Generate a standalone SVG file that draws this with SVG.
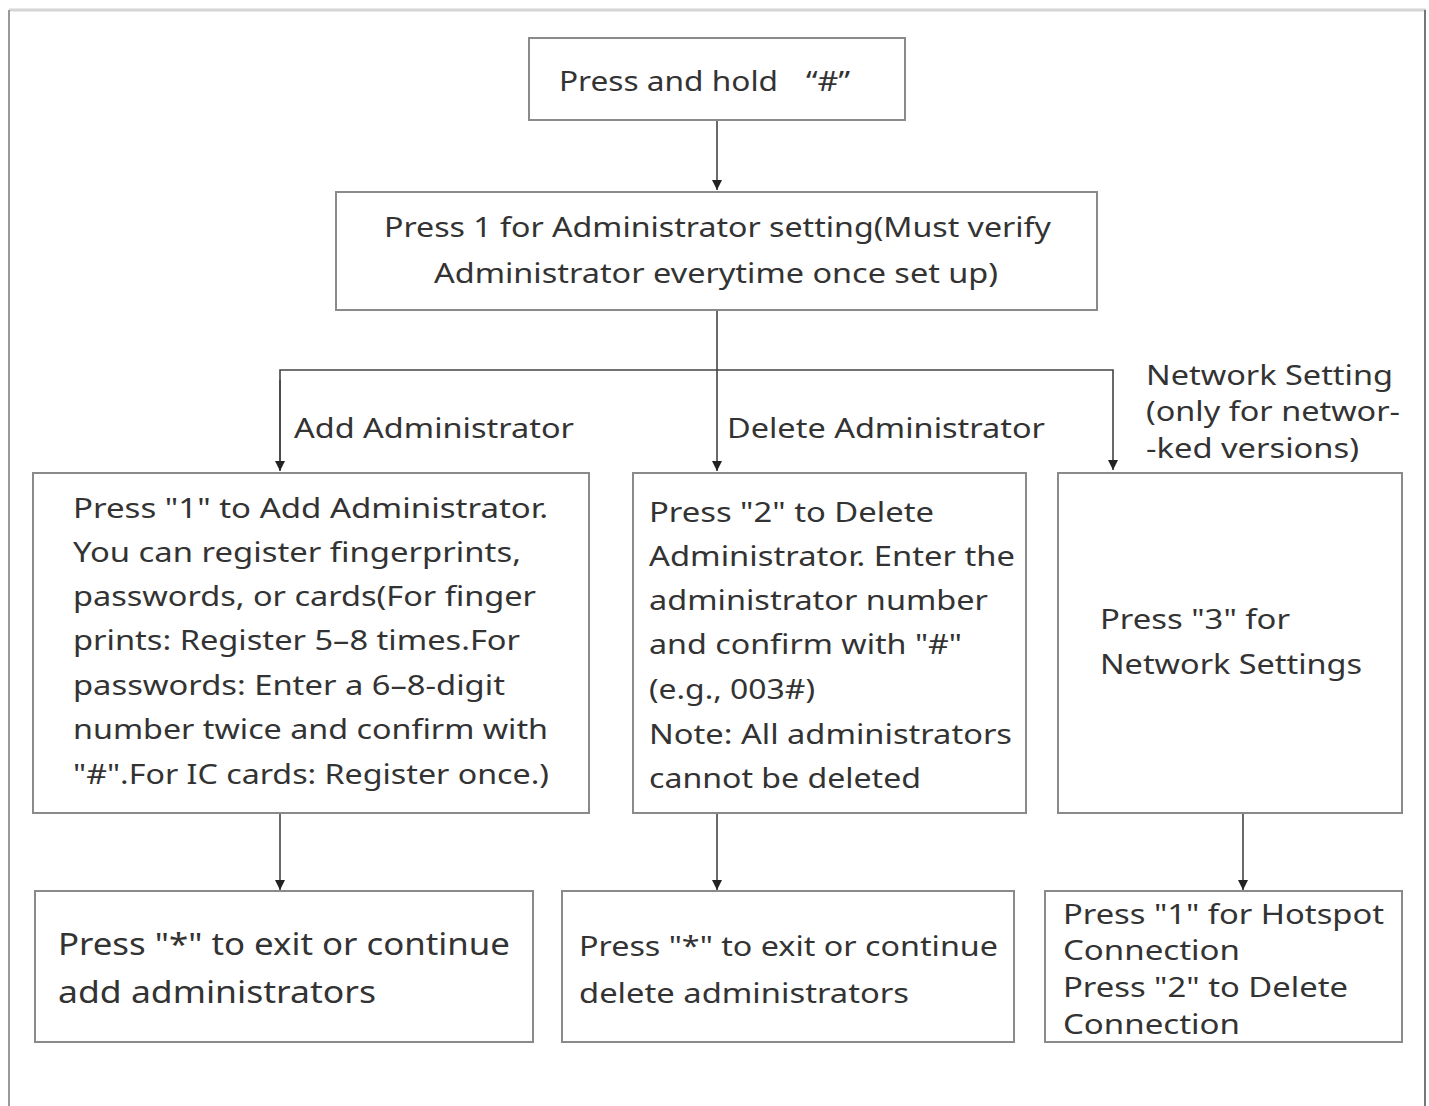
<svg xmlns="http://www.w3.org/2000/svg" width="1429" height="1106" viewBox="0 0 1429 1106">
<defs>
<style>
.box{fill:#fff;stroke:#8a8a8a;stroke-width:2}
.ln{fill:none;stroke:#444;stroke-width:1.6}
text{font-family:"Noto Sans","Open Sans","Liberation Sans",sans-serif;fill:#333;font-size:28px}
.big{font-size:30px}
</style>
<marker id="ah" viewBox="0 0 10 16" refX="10" refY="8" markerWidth="10" markerHeight="16" markerUnits="userSpaceOnUse" orient="auto">
<path d="M0,3 L10,8 L0,13 Z" fill="#222"/>
</marker>
</defs>
<rect x="0" y="0" width="1429" height="1106" fill="#fff"/>
<g id="frame">
<line x1="9" y1="10" x2="1426" y2="10" stroke="#d4d4d4" stroke-width="3"/>
<line x1="9" y1="10" x2="9" y2="1106" stroke="#9a9a9a" stroke-width="2"/>
<line x1="1425" y1="10" x2="1425" y2="1106" stroke="#777" stroke-width="2"/>
</g>
<g id="connectors">
<line class="ln" x1="717" y1="120" x2="717" y2="190" marker-end="url(#ah)"/>
<line class="ln" x1="717" y1="310" x2="717" y2="370"/>
<polyline class="ln" points="280,470 280,370 1113,370 1113,470" marker-end="url(#ah)"/>
<line class="ln" x1="280" y1="380" x2="280" y2="471" marker-end="url(#ah)"/>
<line class="ln" x1="717" y1="370" x2="717" y2="471" marker-end="url(#ah)"/>
<line class="ln" x1="280" y1="813" x2="280" y2="890" marker-end="url(#ah)"/>
<line class="ln" x1="717" y1="813" x2="717" y2="890" marker-end="url(#ah)"/>
<line class="ln" x1="1243" y1="813" x2="1243" y2="890" marker-end="url(#ah)"/>
<text x="294" y="438" textLength="280" lengthAdjust="spacingAndGlyphs">Add Administrator</text>
<text x="727" y="438" textLength="318" lengthAdjust="spacingAndGlyphs">Delete Administrator</text>
<text x="1146" y="385" textLength="247" lengthAdjust="spacingAndGlyphs">Network Setting</text>
<text x="1146" y="421" textLength="254" lengthAdjust="spacingAndGlyphs">(only for networ-</text>
<text x="1146" y="458" textLength="213" lengthAdjust="spacingAndGlyphs">-ked versions)</text>
</g>
<g id="n-hold">
<rect class="box" x="529" y="38" width="376" height="82"/>
<text x="559" y="91" textLength="219" lengthAdjust="spacingAndGlyphs">Press and hold</text>
<text x="806" y="91" textLength="44" lengthAdjust="spacingAndGlyphs">“#”</text>
</g>
<g id="n-admin-setting">
<rect class="box" x="336" y="192" width="761" height="118"/>
<text x="384" y="237" textLength="667" lengthAdjust="spacingAndGlyphs">Press 1 for Administrator setting(Must verify</text>
<text x="434" y="283" textLength="564" lengthAdjust="spacingAndGlyphs">Administrator everytime once set up)</text>
</g>
<g id="n-add">
<rect class="box" x="33" y="473" width="556" height="340"/>
<text x="73" y="518" textLength="475" lengthAdjust="spacingAndGlyphs">Press "1" to Add Administrator.</text>
<text x="73" y="562" textLength="448" lengthAdjust="spacingAndGlyphs">You can register fingerprints,</text>
<text x="73" y="606" textLength="463" lengthAdjust="spacingAndGlyphs">passwords, or cards(For finger</text>
<text x="73" y="650" textLength="447" lengthAdjust="spacingAndGlyphs">prints: Register 5–8 times.For</text>
<text x="73" y="695" textLength="432" lengthAdjust="spacingAndGlyphs">passwords: Enter a 6–8-digit</text>
<text x="73" y="739" textLength="475" lengthAdjust="spacingAndGlyphs">number twice and confirm with</text>
<text x="73" y="784" textLength="476" lengthAdjust="spacingAndGlyphs">"#".For IC cards: Register once.)</text>
</g>
<g id="n-delete">
<rect class="box" x="633" y="473" width="393" height="340"/>
<text x="649" y="522" textLength="285" lengthAdjust="spacingAndGlyphs">Press "2" to Delete</text>
<text x="649" y="566" textLength="366" lengthAdjust="spacingAndGlyphs">Administrator. Enter the</text>
<text x="649" y="610" textLength="339" lengthAdjust="spacingAndGlyphs">administrator number</text>
<text x="649" y="654" textLength="313" lengthAdjust="spacingAndGlyphs">and confirm with "#"</text>
<text x="649" y="699" textLength="166" lengthAdjust="spacingAndGlyphs">(e.g., 003#)</text>
<text x="649" y="744" textLength="363" lengthAdjust="spacingAndGlyphs">Note: All administrators</text>
<text x="649" y="788" textLength="272" lengthAdjust="spacingAndGlyphs">cannot be deleted</text>
</g>
<g id="n-network">
<rect class="box" x="1058" y="473" width="344" height="340"/>
<text x="1100" y="629" textLength="190" lengthAdjust="spacingAndGlyphs">Press "3" for</text>
<text x="1100" y="674" textLength="262" lengthAdjust="spacingAndGlyphs">Network Settings</text>
</g>
<g id="n-add-exit">
<rect class="box" x="35" y="891" width="498" height="151"/>
<text class="big" x="58" y="955" textLength="452" lengthAdjust="spacingAndGlyphs">Press "*" to exit or continue</text>
<text class="big" x="58" y="1003" textLength="318" lengthAdjust="spacingAndGlyphs">add administrators</text>
</g>
<g id="n-delete-exit">
<rect class="box" x="562" y="891" width="452" height="151"/>
<text x="579" y="956" textLength="419" lengthAdjust="spacingAndGlyphs">Press "*" to exit or continue</text>
<text x="579" y="1003" textLength="330" lengthAdjust="spacingAndGlyphs">delete administrators</text>
</g>
<g id="n-hotspot">
<rect class="box" x="1045" y="891" width="357" height="151"/>
<text x="1063" y="924" textLength="321" lengthAdjust="spacingAndGlyphs">Press "1" for Hotspot</text>
<text x="1063" y="960" textLength="177" lengthAdjust="spacingAndGlyphs">Connection</text>
<text x="1063" y="997" textLength="285" lengthAdjust="spacingAndGlyphs">Press "2" to Delete</text>
<text x="1063" y="1034" textLength="177" lengthAdjust="spacingAndGlyphs">Connection</text>
</g>
</svg>
